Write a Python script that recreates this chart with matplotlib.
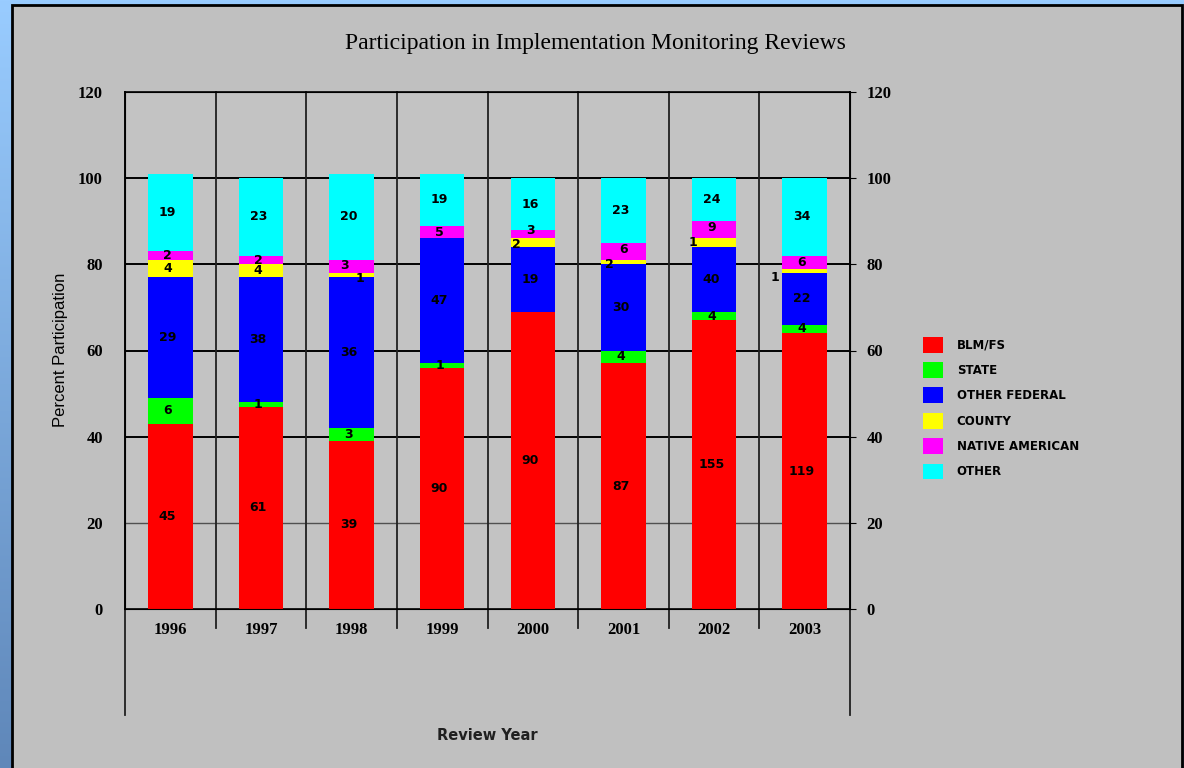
import numpy as np
import matplotlib
matplotlib.use("Agg")
import matplotlib.pyplot as plt
from matplotlib.patches import Rectangle, Patch

# Data: percent participation (as drawn) and the counts printed on segments
years = ["1996", "1997", "1998", "1999", "2000", "2001", "2002", "2003"]
groups = ["BLM/FS", "STATE", "OTHER FEDERAL", "COUNTY", "NATIVE AMERICAN", "OTHER"]
colors = ["#ff0000", "#00ff00", "#0000ff", "#ffff00", "#ff00ff", "#00ffff"]

pct_blm = [43, 47, 39, 56, 69, 57, 67, 64]
pct_state = [6, 1, 3, 1, 0, 3, 2, 2]
pct_fed = [28, 29, 35, 29, 15, 20, 15, 12]
pct_county = [4, 3, 1, 0, 2, 1, 2, 1]
pct_native = [2, 2, 3, 3, 2, 4, 4, 3]
pct_other = [18, 18, 20, 12, 12, 15, 10, 18]

cnt_blm = [45, 61, 39, 90, 90, 87, 155, 119]
cnt_state = [6, 1, 3, 1, 0, 4, 4, 4]
cnt_fed = [29, 38, 36, 47, 19, 30, 40, 22]
cnt_county = [4, 4, 1, 0, 2, 2, 1, 1]
cnt_native = [2, 2, 3, 5, 3, 6, 9, 6]
cnt_other = [19, 23, 20, 19, 16, 23, 24, 34]

pcts = [pct_blm, pct_state, pct_fed, pct_county, pct_native, pct_other]
cnts = [cnt_blm, cnt_state, cnt_fed, cnt_county, cnt_native, cnt_other]

# sideways nudges for labels on thin segments: (group index, year index) -> (dx, dy)
nudge = {
    (3, 2): (0.12, -0.8),
    (4, 2): (-0.05, 0.3),
    (3, 4): (-0.15, -0.5),
    (4, 4): (0.0, 0.8),
    (3, 5): (-0.12, -0.5),
    (4, 5): (0.03, 0.5),
    (3, 6): (-0.2, 0.0),
    (4, 6): (0.0, 0.6),
    (3, 7): (-0.3, -1.5),
}

W, H = 1184, 768
fig = plt.figure(figsize=(W / 100, H / 100), dpi=100)

# blue gradient backdrop
bg = fig.add_axes([0, 0, 1, 1], zorder=-10)
grad = np.linspace(0, 1, 256)[:, None]
top = np.array([153, 204, 255]) / 255
bot = np.array([95, 135, 185]) / 255
img = top[None, None, :] * (1 - grad[:, :, None]) + bot[None, None, :] * grad[:, :, None]
bg.imshow(img, aspect="auto", extent=[0, 1, 0, 1])
bg.set_xlim(0, 1)
bg.set_ylim(0, 1)
bg.axis("off")
# gray panel
bg.add_patch(Rectangle((12 / W, -0.05), (1182 - 12) / W, 1.05 - 5 / H,
                       facecolor="#c0c0c0", edgecolor="black", linewidth=2))

ax = fig.add_axes([125 / W, 159 / H, 725 / W, 517 / H])
ax.set_facecolor("#c3c3c3")
x = np.arange(len(years))
bottom = np.zeros(len(years))
for g, (vals, counts, col) in enumerate(zip(pcts, cnts, colors)):
    vals = np.array(vals, dtype=float)
    ax.bar(x, vals, width=0.49, bottom=bottom, color=col, edgecolor="none", zorder=3)
    for i in range(len(years)):
        if counts[i] > 0 and vals[i] > 0:
            dx, dy = nudge.get((g, i), (0.0, 0.0))
            ax.text(x[i] - 0.03 + dx, bottom[i] + vals[i] / 2 + dy, str(counts[i]),
                    ha="center", va="center", fontsize=9, fontweight="bold",
                    family="DejaVu Sans", zorder=4)
    bottom += vals

ax.set_xlim(-0.5, len(years) - 0.5)
ax.set_ylim(0, 120)
ax.set_yticks([0, 20, 40, 60, 80, 100, 120])
ax.set_xticks(x)
ax.set_xticklabels(years, family="Liberation Serif", fontsize=12, fontweight="bold")
ax.tick_params(axis="x", length=0, pad=9)
ax.tick_params(axis="y", length=0, pad=16, labelsize=12)
for lab in ax.get_yticklabels():
    lab.set_family("Liberation Serif")
    lab.set_fontweight("bold")

# grid lines and dividers
for yv in [40, 60, 80, 100]:
    ax.axhline(yv, color="black", linewidth=1.4, zorder=2)
ax.axhline(20, color="#505050", linewidth=1.0, zorder=2)
for xv in np.arange(0.5, len(years) - 0.5, 1):
    ax.plot([xv, xv], [-4.4, 120], color="#202020", linewidth=1.3, zorder=2, clip_on=False)
for xv in [-0.5, len(years) - 0.5]:
    ax.plot([xv, xv], [-24.6, 120], color="#202020", linewidth=1.3, zorder=2, clip_on=False)
for sp in ax.spines.values():
    sp.set_linewidth(1.2)
    sp.set_color("black")

ax2 = ax.twinx()
ax2.set_ylim(0, 120)
ax2.set_yticks([0, 20, 40, 60, 80, 100, 120])
ax2.tick_params(axis="y", length=4, pad=8, labelsize=12)
for lab in ax2.get_yticklabels():
    lab.set_family("Liberation Serif")
    lab.set_fontweight("bold")

fig.text(595 / W, 1 - 43 / H, "Participation in Implementation Monitoring Reviews",
         ha="center", va="center", family="Liberation Serif", fontsize=17)
fig.text(60 / W, 1 - 350 / H, "Percent Participation", rotation=90, ha="center", va="center",
         family="Liberation Sans", fontsize=12)
fig.text(487 / W, 1 - 735 / H, "Review Year", ha="center", va="center",
         family="DejaVu Sans", fontsize=10.5, fontweight="bold", color="#202020")

handles = [Patch(facecolor=c, edgecolor="none") for c in colors]
leg = fig.legend(handles, groups, loc="upper left", bbox_to_anchor=(912 / W, 1 - 326 / H),
                 frameon=False, fontsize=8.5, handlelength=1.7, handleheight=1.7,
                 labelspacing=0.8, handletextpad=1.2)
for t in leg.get_texts():
    t.set_fontweight("bold")

fig.savefig("out.png", dpi=100)
